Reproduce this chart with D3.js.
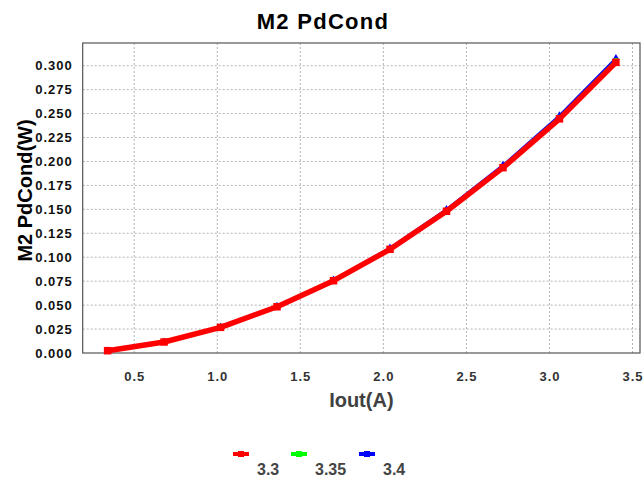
<!DOCTYPE html>
<html><head><meta charset="utf-8">
<script src="https://cdn.jsdelivr.net/npm/d3@7/dist/d3.min.js"></script>
<style>body{margin:0;background:#fff}svg{display:block}text{font-family:"Liberation Sans",Arial,sans-serif;font-weight:bold}</style>
</head><body><svg id="c" width="643" height="477"></svg>
<script>
const iout = [0.34, 0.68, 1.02, 1.36, 1.70, 2.04, 2.38, 2.72, 3.06, 3.40];
const s33  = [0.0024, 0.0115, 0.0268, 0.0483, 0.0755, 0.1083, 0.1480, 0.1935, 0.2445, 0.3035];
const s335 = [0.0025, 0.0117, 0.0271, 0.0488, 0.0762, 0.1093, 0.1493, 0.1952, 0.2466, 0.3060];
const s34  = [0.0025, 0.0118, 0.0273, 0.0491, 0.0767, 0.1100, 0.1502, 0.1964, 0.2482, 0.3080];
const seriesNames = ["3.3", "3.35", "3.4"];
const xTicks = [0.5, 1.0, 1.5, 2.0, 2.5, 3.0, 3.5];
const yTicks = [0, 0.025, 0.05, 0.075, 0.1, 0.125, 0.15, 0.175, 0.2, 0.225, 0.25, 0.275, 0.3];

const svg = d3.select("#c");
const L = 82.7, R = 640, T = 43, B = 353;
const x = d3.scaleLinear().domain([0.19, 3.545]).range([L, R]);
const y = d3.scaleLinear().domain([0, 0.3237]).range([B, T]);

// grid
const g = svg.append("g");
g.selectAll(".vg").data(xTicks).join("line")
  .attr("x1", d => x(d)).attr("x2", d => x(d)).attr("y1", T).attr("y2", B)
  .attr("stroke", "#b4b4b4").attr("stroke-dasharray", "2,2");
g.selectAll(".hg").data(yTicks.slice(1)).join("line")
  .attr("y1", d => y(d)).attr("y2", d => y(d)).attr("x1", L).attr("x2", R)
  .attr("stroke", "#b4b4b4").attr("stroke-dasharray", "2,2");

// axes (labels only)
const xAxis = svg.append("g").attr("transform", `translate(0,${B})`)
  .call(d3.axisBottom(x).tickValues(xTicks).tickFormat(d3.format(".1f")).tickSize(0).tickPadding(19));
xAxis.select(".domain").remove();
xAxis.selectAll("text").attr("font-size", 13).attr("fill", "#333").style("letter-spacing", "1px");
const yAxis = svg.append("g").attr("transform", `translate(${L},0)`)
  .call(d3.axisLeft(y).tickValues(yTicks).tickFormat(d3.format(".3f")).tickSize(0).tickPadding(10));
yAxis.select(".domain").remove();
yAxis.selectAll("text").attr("font-size", 13).attr("fill", "#111").style("letter-spacing", "1px");

// border
svg.append("rect").attr("x", L).attr("y", T).attr("width", R - L).attr("height", B - T)
  .attr("fill", "none").attr("stroke", "#555").attr("stroke-width", 1.2);

const data = [
  {name: seriesNames[2], vals: s34, color: "#0000ff", w: 2, mk: "tri"},
  {name: seriesNames[1], vals: s335, color: "#00ff00", w: 2, mk: "sq"},
  {name: seriesNames[0], vals: s33, color: "#ff0000", w: 5.5, mk: "sq"}
];
const line = d3.line().x(d => x(d[0])).y(d => y(d[1]));
data.forEach(s => {
  const pts = iout.map((v, i) => [v, s.vals[i]]);
  svg.append("path").datum(pts).attr("d", line).attr("fill", "none")
    .attr("stroke", s.color).attr("stroke-width", s.w).attr("stroke-linejoin", "round");
  if (s.mk === "tri") {
    svg.selectAll(null).data(pts).join("path")
      .attr("d", d3.symbol(d3.symbolTriangle, 22))
      .attr("transform", d => `translate(${x(d[0])},${y(d[1])})`).attr("fill", s.color);
  } else {
    const sz = s.w > 3 ? 7.5 : 4;
    svg.selectAll(null).data(pts).join("rect")
      .attr("x", d => x(d[0]) - sz / 2).attr("y", d => y(d[1]) - sz / 2)
      .attr("width", sz).attr("height", sz).attr("fill", s.color);
  }
});

// title and labels
svg.append("text").attr("x", 323).attr("y", 29).attr("text-anchor", "middle")
  .attr("font-size", 22).style("letter-spacing", "1.3px").attr("fill", "#000").text("M2 PdCond");
svg.append("text").attr("transform", `translate(32,${(118 + 263) / 2}) rotate(-90)`)
  .attr("text-anchor", "middle").attr("font-size", 20).attr("fill", "#000").text("M2 PdCond(W)");
svg.append("text").attr("x", (L + R) / 2).attr("y", 407).attr("text-anchor", "middle")
  .attr("font-size", 20).attr("fill", "#404040").text("Iout(A)");

// legend
const legX = [233, 291, 359];
const legColors = ["#ff0000", "#00ff00", "#0000ff"];
seriesNames.forEach((n, i) => {
  svg.append("line").attr("x1", legX[i]).attr("x2", legX[i] + 16).attr("y1", 454).attr("y2", 454)
    .attr("stroke", legColors[i]).attr("stroke-width", 4);
  svg.append("rect").attr("x", legX[i] + 5).attr("y", 451).attr("width", 6).attr("height", 6).attr("fill", legColors[i]);
  svg.append("text").attr("x", legX[i] + 24).attr("y", 475).attr("font-size", 16)
    .attr("fill", "#444").text(n);
});
</script></body></html>
